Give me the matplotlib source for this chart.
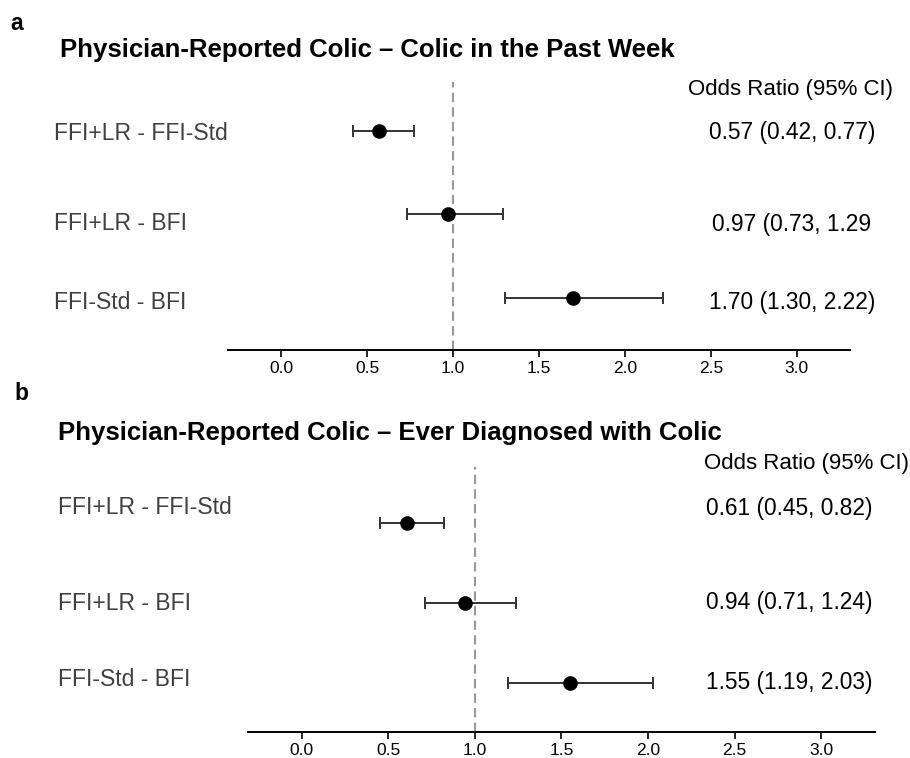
import numpy as np
import matplotlib
matplotlib.use("Agg")
import matplotlib.pyplot as plt

plt.rcParams['font.family'] = ['Liberation Sans', 'DejaVu Sans']

# comparisons, listed top to bottom
comparisons = ['FFI+LR - FFI-Std', 'FFI+LR - BFI', 'FFI-Std - BFI']

# panel a: colic in the past week
or_a = [0.57, 0.97, 1.70]
lo_a = [0.42, 0.73, 1.30]
hi_a = [0.77, 1.29, 2.22]
txt_a = ['0.57 (0.42, 0.77)', '0.97 (0.73, 1.29', '1.70 (1.30, 2.22)']

# panel b: ever diagnosed with colic
or_b = [0.61, 0.94, 1.55]
lo_b = [0.45, 0.71, 1.19]
hi_b = [0.82, 1.24, 2.03]
txt_b = ['0.61 (0.45, 0.82)', '0.94 (0.71, 1.24)', '1.55 (1.19, 2.03)']

xticks = [0.0, 0.5, 1.0, 1.5, 2.0, 2.5, 3.0]

W, H = 910, 758
fig = plt.figure(figsize=(W / 100, H / 100), dpi=100)


def fx(px):
    return px / W


def fy(py):
    return 1 - py / H


def forest(box, ylim, est, lo, hi):
    # box in pixels: left, top, right, bottom
    l, t, r, b = box
    ax = fig.add_axes([fx(l), fy(b), fx(r - l), (b - t) / H])
    y = np.arange(len(est), 0, -1)
    est = np.array(est)
    err = [est - np.array(lo), np.array(hi) - est]
    ax.errorbar(est, y, xerr=err, fmt='o', color='black', ecolor='#333333',
                elinewidth=1.4, capsize=4, capthick=1.4, markersize=9.5)
    ax.axvline(1.0, color='#999999', lw=1.5, ls=(0, (4.5, 2.5)), zorder=0)
    ax.set_xlim(-0.31, 3.31)
    ax.set_ylim(*ylim)
    ax.set_xticks(xticks)
    ax.set_xticklabels([f'{v:.1f}' for v in xticks], fontsize=12.5)
    ax.set_yticks([])
    for s in ['left', 'right', 'top']:
        ax.spines[s].set_visible(False)
    ax.spines['bottom'].set_linewidth(1.4)
    ax.tick_params(axis='x', length=5, width=1.2, pad=3)
    return ax


# panel a
forest((228, 82, 850, 350), (0.377, 3.587), or_a, lo_a, hi_a)
fig.text(fx(10), fy(23), 'a', fontsize=16.5, fontweight='bold', va='center')
fig.text(fx(60), fy(50), 'Physician-Reported Colic \u2013 Colic in the Past Week',
         fontsize=18.5, fontweight='bold', va='center')
fig.text(fx(790), fy(90), 'Odds Ratio (95% CI)', fontsize=16, ha='center', va='center')
for lab, txt, ly, ty in zip(comparisons, txt_a, [133, 223, 303], [133, 225, 303]):
    fig.text(fx(54), fy(ly), lab, fontsize=16.5, color='#404040', va='center')
    fig.text(fx(792), fy(ty), txt, fontsize=16.4, ha='center', va='center')

# panel b
forest((248, 467, 875, 732), (0.3875, 3.7), or_b, lo_b, hi_b)
fig.text(fx(14), fy(393), 'b', fontsize=16.5, fontweight='bold', va='center')
fig.text(fx(58), fy(433), 'Physician-Reported Colic \u2013 Ever Diagnosed with Colic',
         fontsize=18.5, fontweight='bold', va='center')
fig.text(fx(807), fy(463), 'Odds Ratio (95% CI)', fontsize=16, ha='center', va='center')
for lab, txt, ly, ty in zip(comparisons, txt_b, [508, 603, 680], [508, 603, 683]):
    fig.text(fx(58), fy(ly), lab, fontsize=16.5, color='#404040', va='center')
    fig.text(fx(789), fy(ty), txt, fontsize=16.4, ha='center', va='center')

fig.savefig('out.png', dpi=100)
